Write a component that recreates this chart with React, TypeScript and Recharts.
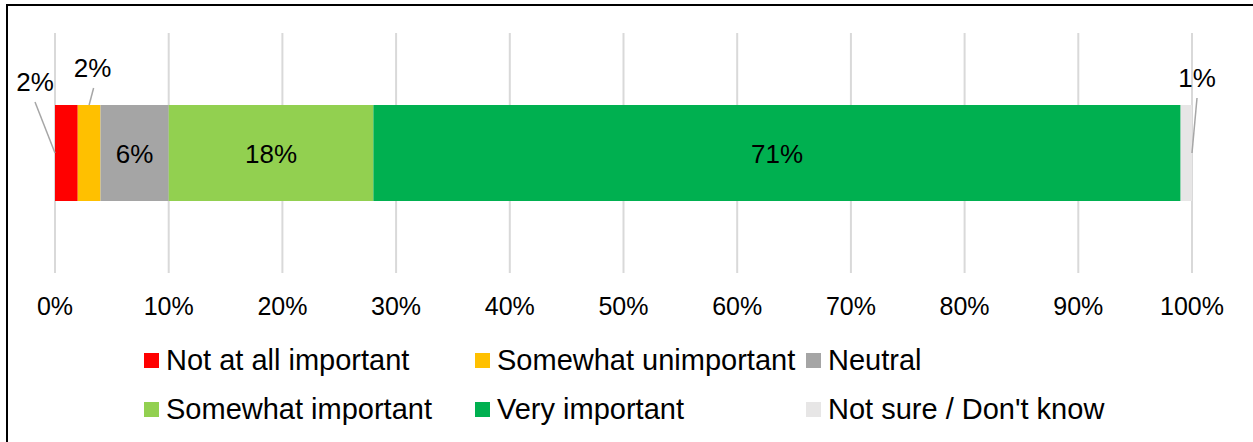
import React from 'react';
import { BarChart, Bar, XAxis, YAxis, CartesianGrid, Legend, LabelList } from 'recharts';

const categories = ['Importance'];
const seriesNames = [
  'Not at all important',
  'Somewhat unimportant',
  'Neutral',
  'Somewhat important',
  'Very important',
  "Not sure / Don't know",
];
const seriesValues = [2, 2, 6, 18, 71, 1];
const seriesColors = ['#FF0000', '#FFC000', '#A5A5A5', '#92D050', '#00B050', '#E7E6E6'];
const xTicks = [0, 10, 20, 30, 40, 50, 60, 70, 80, 90, 100];
// label placement style per series
const labelPlacement = ['leftOut', 'topOut', 'inside', 'inside', 'inside', 'rightOut'];

const FONT = '"Liberation Sans", Arial, sans-serif';
const W = 1253;
const H = 442;

const keys = seriesNames.map((_, i) => `s${i}`);
const data = categories.map((c) => {
  const row: Record<string, any> = { name: c };
  keys.forEach((k, i) => {
    row[k] = seriesValues[i];
  });
  return row;
});

const LABEL_FS = 26;

const makeLabel = (placement: string) => (props: any) => {
  const vb = props.viewBox || {};
  const x = props.x ?? vb.x;
  const y = props.y ?? vb.y;
  const w = props.width ?? vb.width;
  const h = props.height ?? vb.height;
  const text = `${props.value}%`;
  const capOff = LABEL_FS * 0.358;
  if (placement === 'inside') {
    return (
      <text x={x + w / 2} y={y + h / 2 + capOff + 1} textAnchor="middle" fontSize={LABEL_FS} fontFamily={FONT} fill="#000">
        {text}
      </text>
    );
  }
  let tx = 0, ty = 0, lx1 = 0, ly1 = 0, lx2 = 0, ly2 = 0;
  if (placement === 'leftOut') {
    tx = x - 20; ty = y - 23;
    lx1 = x - 20; ly1 = y - 3; lx2 = x; ly2 = y + h / 2;
  } else if (placement === 'topOut') {
    tx = x + w / 2 + 3.5; ty = y - 37;
    lx1 = x + w / 2 + 4.5; ly1 = y - 17; lx2 = x + w / 2; ly2 = y;
  } else {
    tx = x + w + 5; ty = y - 27;
    lx1 = x + w + 5; ly1 = y - 7; lx2 = x + w; ly2 = y + h / 2;
  }
  return (
    <g>
      <line x1={lx1} y1={ly1} x2={lx2} y2={ly2} stroke="#A6A6A6" strokeWidth={1.5} />
      <text x={tx} y={ty + capOff} textAnchor="middle" fontSize={LABEL_FS} fontFamily={FONT} fill="#000">
        {text}
      </text>
    </g>
  );
};

const LegendContent = () => {
  const colW = 331;
  const startX = 144;
  const rowY = [27, 76];
  return (
    <div style={{ position: 'relative', width: W, height: 100, fontFamily: FONT }}>
      {seriesNames.map((n, i) => {
        const col = i % 3;
        const row = Math.floor(i / 3);
        return (
          <div
            key={n}
            style={{
              position: 'absolute',
              left: startX + col * colW,
              top: rowY[row] - 14,
              height: 28,
              display: 'flex',
              alignItems: 'center',
              whiteSpace: 'nowrap',
            }}
          >
            <div style={{ width: 15, height: 15, background: seriesColors[i], marginRight: 7 }} />
            <span style={{ fontSize: 29, lineHeight: '28px', color: '#000' }}>{n}</span>
          </div>
        );
      })}
    </div>
  );
};

export default function App() {
  return (
    <div style={{ position: 'absolute', left: 0, top: 0, width: W, height: H, overflow: 'hidden', background: '#fff' }}>
      <BarChart
        width={W}
        height={H}
        data={data}
        layout="vertical"
        margin={{ top: 33, right: 61, bottom: 9, left: 55 }}
      >
        <CartesianGrid horizontal={false} stroke="#D9D9D9" strokeWidth={2} />
        <XAxis
          type="number"
          domain={[0, 100]}
          ticks={xTicks}
          tickFormatter={(v: number) => `${v}%`}
          axisLine={false}
          tickLine={false}
          tickMargin={18}
          height={60}
          interval={0}
          tick={{ fontSize: 25, fill: '#000', fontFamily: FONT }}
        />
        <YAxis type="category" dataKey="name" hide />
        <Legend
          verticalAlign="bottom"
          align="left"
          content={() => <LegendContent />}
          wrapperStyle={{ left: 0, bottom: 9, width: W, height: 100 }}
        />
        {keys.map((k, i) => (
          <Bar
            key={k}
            dataKey={k}
            name={seriesNames[i]}
            stackId="a"
            fill={seriesColors[i]}
            barSize={96}
            isAnimationActive={false}
          >
            <LabelList dataKey={k} content={makeLabel(labelPlacement[i])} />
          </Bar>
        ))}
      </BarChart>
      <div
        style={{
          position: 'absolute',
          left: 6,
          top: 4,
          width: W - 6,
          height: H - 4,
          borderLeft: '2px solid #000',
          borderTop: '2px solid #000',
          boxSizing: 'border-box',
          pointerEvents: 'none',
        }}
      />
    </div>
  );
}
